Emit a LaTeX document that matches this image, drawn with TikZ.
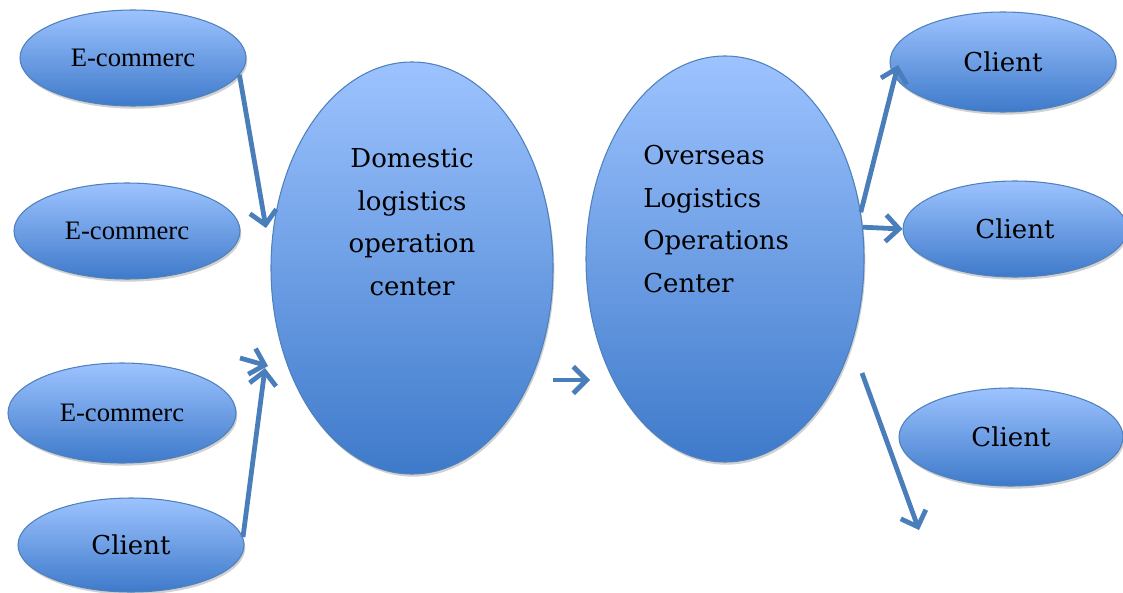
\documentclass[tikz,border=0pt]{standalone}
\usepackage{fontspec}
\setmainfont{Liberation Serif}
\newfontfamily\cambriafont{DejaVu Serif}
\usetikzlibrary{shapes.geometric,arrows.meta,shadows}

\definecolor{ovaltop}{RGB}{157,195,255}
\definecolor{ovalbottom}{RGB}{62,122,202}
\definecolor{ovalline}{RGB}{79,129,189}
\definecolor{arrowblue}{RGB}{74,126,187}

\tikzset{
	oval/.style={ellipse, draw=ovalline, line width=0.8pt, top color=ovaltop, bottom color=ovalbottom, inner sep=0pt,
		drop shadow={shadow xshift=1pt, shadow yshift=-2pt, fill=black!30, opacity=0.6}},
	shop/.style={font=\fontsize{20}{24}\selectfont},
	buyer/.style={font=\cambriafont\fontsize{19.5}{32}\selectfont, inner sep=0pt},
	flow/.style={draw=arrowblue, line width=3.6pt, -{Straight Barb[length=10pt, width=20pt, line width=3.6pt]}}
}

\begin{document}
\begin{tikzpicture}[x=0.75pt, y=-0.75pt]
	\useasboundingbox (0,0) rectangle (1123,592);
	% senders
	\node[oval, shop, minimum width=169.5pt, minimum height=72pt] (e1) at (133,58) {E-commerc};
	\node[oval, shop, minimum width=169.5pt, minimum height=72pt] (e2) at (127,231) {E-commerc};
	\node[oval, shop, minimum width=171pt, minimum height=75pt] (e3) at (122,413) {E-commerc};
	\node[oval, buyer, minimum width=169.5pt, minimum height=70.5pt] (cl) at (131,545) {Client};
	% the two centres
	\node[oval, minimum width=211.5pt, minimum height=309pt] (dom) at (412,268) {};
	\node[buyer, align=center] (domtxt) at (412,222) {Domestic\\logistics\\operation\\center};
	\node[oval, minimum width=208.5pt, minimum height=304.5pt] (ovs) at (725,259) {};
	\node[buyer, align=left, anchor=west] (ovstxt) at (643,219) {Overseas\\Logistics\\Operations\\Center};
	% receivers
	\node[oval, buyer, minimum width=169.5pt, minimum height=75pt] (r1) at (1003,62) {Client};
	\node[oval, buyer, minimum width=168pt, minimum height=72pt] (r2) at (1015,229) {Client};
	\node[oval, buyer, minimum width=168pt, minimum height=73.5pt] (r3) at (1011,437) {Client};
	% free ends
	\coordinate (in1) at (266,228);
	\coordinate (in2s) at (240,358);
	\coordinate (in2) at (268,366);
	\coordinate (in3) at (265,368);
	\coordinate (mids) at (553,380);
	\coordinate (mide) at (590,380);
	\coordinate (r1in) at (898,65);
	\coordinate (outs) at (862,373);
	\coordinate (oute) at (919,530);
	% arrows
	\draw[flow] (e1.-9) to (in1);
	\draw[flow] (in2s) to (in2);
	\draw[flow] (cl.4) to (in3);
	\draw[flow] (mids) to (mide);
	\draw[flow] (ovs.19) to (r1in);
	\draw[flow] (ovs.13) to (r2.west);
	\draw[flow] (outs) to (oute);
\end{tikzpicture}
\end{document}
